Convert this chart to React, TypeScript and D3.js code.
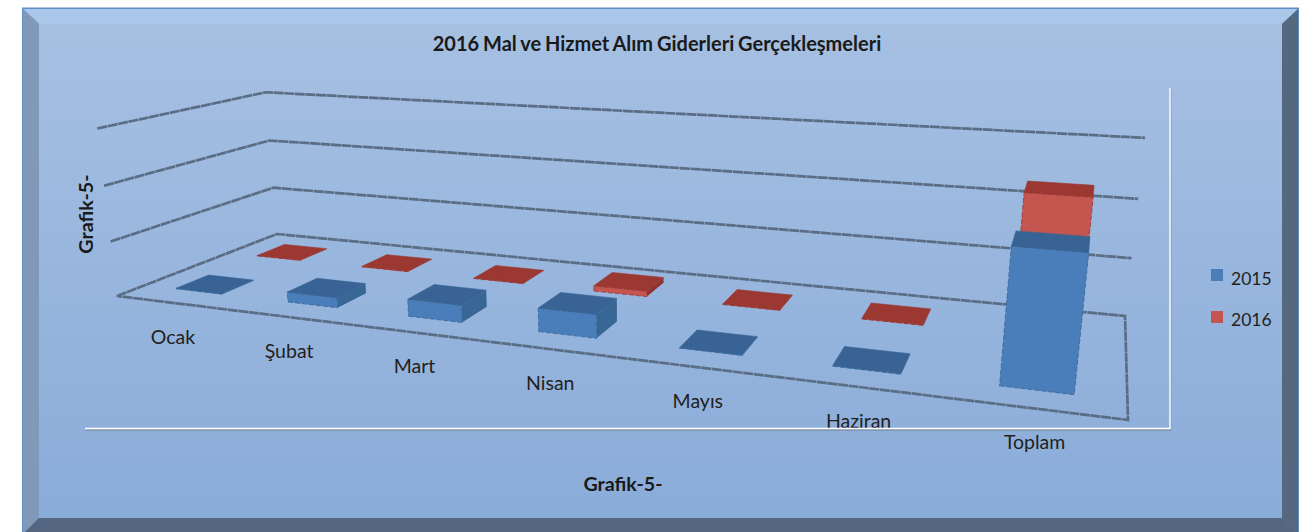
import React from "react";
import * as d3 from "d3";

const categories = ["Ocak", "Şubat", "Mart", "Nisan", "Mayıs", "Haziran", "Toplam"];
const seriesNames = ["2015", "2016"];
const values2015 = [1, 18, 30, 40, 1, 1, 206];
const values2016 = [1, 1, 1, 10, 1, 1, 232];
const gridValues = [100, 200, 300];
const colors2015 = { front: "#4a7ebb", top: "#376494", side: "#386695" };
const colors2016 = { front: "#c4544f", top: "#9c3733", side: "#8f3330" };
const title = "2016 Mal ve Hizmet Alım Giderleri Gerçekleşmeleri";
const axisTitle = "Grafik-5-";

type P = [number, number];
function gauss(A: number[][], b: number[]): number[] {
  const n = b.length;
  const M = A.map((r, i) => [...r, b[i]]);
  for (let i = 0; i < n; i++) {
    let p = i;
    for (let k = i + 1; k < n; k++) if (Math.abs(M[k][i]) > Math.abs(M[p][i])) p = k;
    [M[i], M[p]] = [M[p], M[i]];
    for (let k = i + 1; k < n; k++) {
      const f = M[k][i] / M[i][i];
      for (let j = i; j <= n; j++) M[k][j] -= f * M[i][j];
    }
  }
  const x = new Array(n).fill(0);
  for (let i = n - 1; i >= 0; i--) {
    let s = M[i][n];
    for (let j = i + 1; j < n; j++) s -= M[i][j] * x[j];
    x[i] = s / M[i][i];
  }
  return x;
}

// Perspective camera fitted to the box corners seen in the picture
const floorAnchors: [number, number, P][] = [
  [0, 0, [117, 296]],
  [0, 1, [277, 234]],
  [1, 1, [1125, 316]],
  [1, 0, [1128, 420]],
];
const topAnchors: [number, number, P][] = [
  [0, 0, [98, 128]],
  [0, 1, [265, 91]],
  [1, 1, [1145, 140]],
];
function buildCamera() {
  const A: number[][] = [];
  const b: number[] = [];
  floorAnchors.forEach(([u, v, [x, y]]) => {
    A.push([u, v, 1, 0, 0, 0, -x * u, -x * v]);
    b.push(x);
    A.push([0, 0, 0, u, v, 1, -y * u, -y * v]);
    b.push(y);
  });
  const h = gauss(A, b);
  const rows: number[][] = [];
  const rhs: number[] = [];
  topAnchors.forEach(([u, v, [x, y]]) => {
    const d = h[6] * u + h[7] * v + 1;
    rows.push([1, 0, -x]);
    rhs.push(x * d - (h[0] * u + h[1] * v + h[2]));
    rows.push([0, 1, -y]);
    rhs.push(y * d - (h[3] * u + h[4] * v + h[5]));
  });
  const AtA = [0, 1, 2].map((i) => [0, 1, 2].map((j) => d3.sum(rows, (r) => r[i] * r[j])));
  const Atb = [0, 1, 2].map((i) => d3.sum(rows, (r, k) => r[i] * rhs[k]));
  const p = gauss(AtA, Atb);
  return (u: number, v: number, w: number): P => {
    const d = h[6] * u + h[7] * v + 1 + p[2] * w;
    return [(h[0] * u + h[1] * v + h[2] + p[0] * w) / d, (h[3] * u + h[4] * v + h[5] + p[1] * w) / d];
  };
}
const project = buildCamera();

const uScale = d3.scaleBand<string>().domain(categories).range([0, 1]).paddingInner(0.58).paddingOuter(0.29);
const vScale = d3.scaleBand<string>().domain(seriesNames).range([0, 1]).paddingInner(0.62).paddingOuter(0.3);
const wScale = d3.scaleLinear().domain([0, 300]).range([0, 1]);
const line = d3.line<P>();
const closed = (pts: P[]) => line(pts) + "Z";
const area = (pts: P[]) => d3.polygonArea(pts);
const font = "Lato, 'Open Sans', sans-serif";
const ink = "#231f20";

function Bar({ cat, series, value, c }: { cat: string; series: string; value: number; c: typeof colors2015 }) {
  const u0 = uScale(cat)!;
  const u1 = u0 + uScale.bandwidth();
  const v0 = vScale(series)!;
  const v1 = v0 + vScale.bandwidth();
  const w = wScale(value);
  const a = project(u0, v0, 0), b = project(u1, v0, 0), e = project(u1, v1, 0);
  const A = project(u0, v0, w), B = project(u1, v0, w), E = project(u1, v1, w), F = project(u0, v1, w);
  const right: P[] = [b, e, E, B];
  const showRight = area(right) > 0;
  return (
    <g>
      {showRight && <path d={closed(right)} fill={c.side} />}
      <path d={closed([a, b, B, A])} fill={c.front} stroke={c.top} strokeWidth={0.8} strokeDasharray="5 2" />
      <path d={closed([A, B, E, F])} fill={c.top} stroke={c.top} strokeWidth={0.6} />
    </g>
  );
}

export default function App() {
  const labelPts = categories.map((c) => {
    const u = uScale(c)! + uScale.bandwidth() / 2;
    const [x, y] = project(u, 0, 0);
    return [x + 1, y + 41] as P;
  });
  const gridStroke = { fill: "none", stroke: "#5a6d84", strokeWidth: 2.7, strokeDasharray: "10 0.6" };
  return (
    <svg width={1313} height={532} viewBox="0 0 1313 532" style={{ position: "fixed", left: 0, top: 0, background: "#fff" }}>
      <defs>
        <linearGradient id="face" x1="0" y1="0" x2="0" y2="1">
          <stop offset="0" stopColor="#a6c0e2" />
          <stop offset="1" stopColor="#8aacd9" />
        </linearGradient>
        <filter id="soft" x="-5%" y="-5%" width="110%" height="110%">
          <feGaussianBlur stdDeviation="0.55" />
        </filter>
      </defs>
      <rect x={22} y={7.5} width={1277} height={530} fill="#5b8ec9" />
      <path d={closed([[23, 9], [1298, 9], [1282, 24], [39, 24]])} fill="#a9c7e9" />
      <path d={closed([[23, 9], [39, 24], [39, 518], [23, 534]])} fill="#8199b8" />
      <path d={closed([[1298, 9], [1282, 24], [1282, 518], [1298, 534]])} fill="#56687f" />
      <path d={closed([[23, 534], [39, 518], [1282, 518], [1298, 534]])} fill="#546680" />
      <rect x={39} y={24} width={1243} height={494} fill="url(#face)" />

      <g filter="url(#soft)">
        {gridValues.map((g) => {
          const w = wScale(g);
          return <path key={g} d={line([project(0, 0, w), project(0, 1, w), project(1, 1, w)])!} {...gridStroke} />;
        })}
        <path d={closed([project(0, 0, 0), project(0, 1, 0), project(1, 1, 0), project(1, 0, 0)])} {...gridStroke} />
        {categories.map((c, i) => <Bar key={c} cat={c} series="2016" value={values2016[i]} c={colors2016} />)}
        {categories.map((c, i) => <Bar key={c} cat={c} series="2015" value={values2015[i]} c={colors2015} />)}
      </g>

      <g fontFamily={font} fill={ink}>
        {categories.map((c, i) => (
          <text key={c} x={labelPts[i][0]} y={labelPts[i][1]} textAnchor="middle" fontSize={19.5}>{c}</text>
        ))}
        {seriesNames.map((s, i) => (
          <g key={s}>
            <rect x={1211} y={269 + i * 42} width={12} height={12} fill={i === 0 ? colors2015.front : colors2016.front} />
            <text x={1231} y={285 + i * 41} fontSize={17.5}>{s}</text>
          </g>
        ))}
      </g>

      <path d="M1170 88V429H85" fill="none" stroke="#7d8ea6" strokeWidth={1.5} transform="translate(0.6,1)" />
      <path d="M1170 88V428.5H85" fill="none" stroke="#fff" strokeWidth={1.5} />

      <g fontFamily={font} fill="#1a1a1a" fontWeight={700}>
        <text x={657} y={51} textAnchor="middle" fontSize={20} wordSpacing={-1}>{title}</text>
        <text x={623} y={491} textAnchor="middle" fontSize={19.7}>{axisTitle}</text>
        <text transform="translate(93,214) rotate(-90)" textAnchor="middle" fontSize={19.7}>{axisTitle}</text>
      </g>
    </svg>
  );
}
